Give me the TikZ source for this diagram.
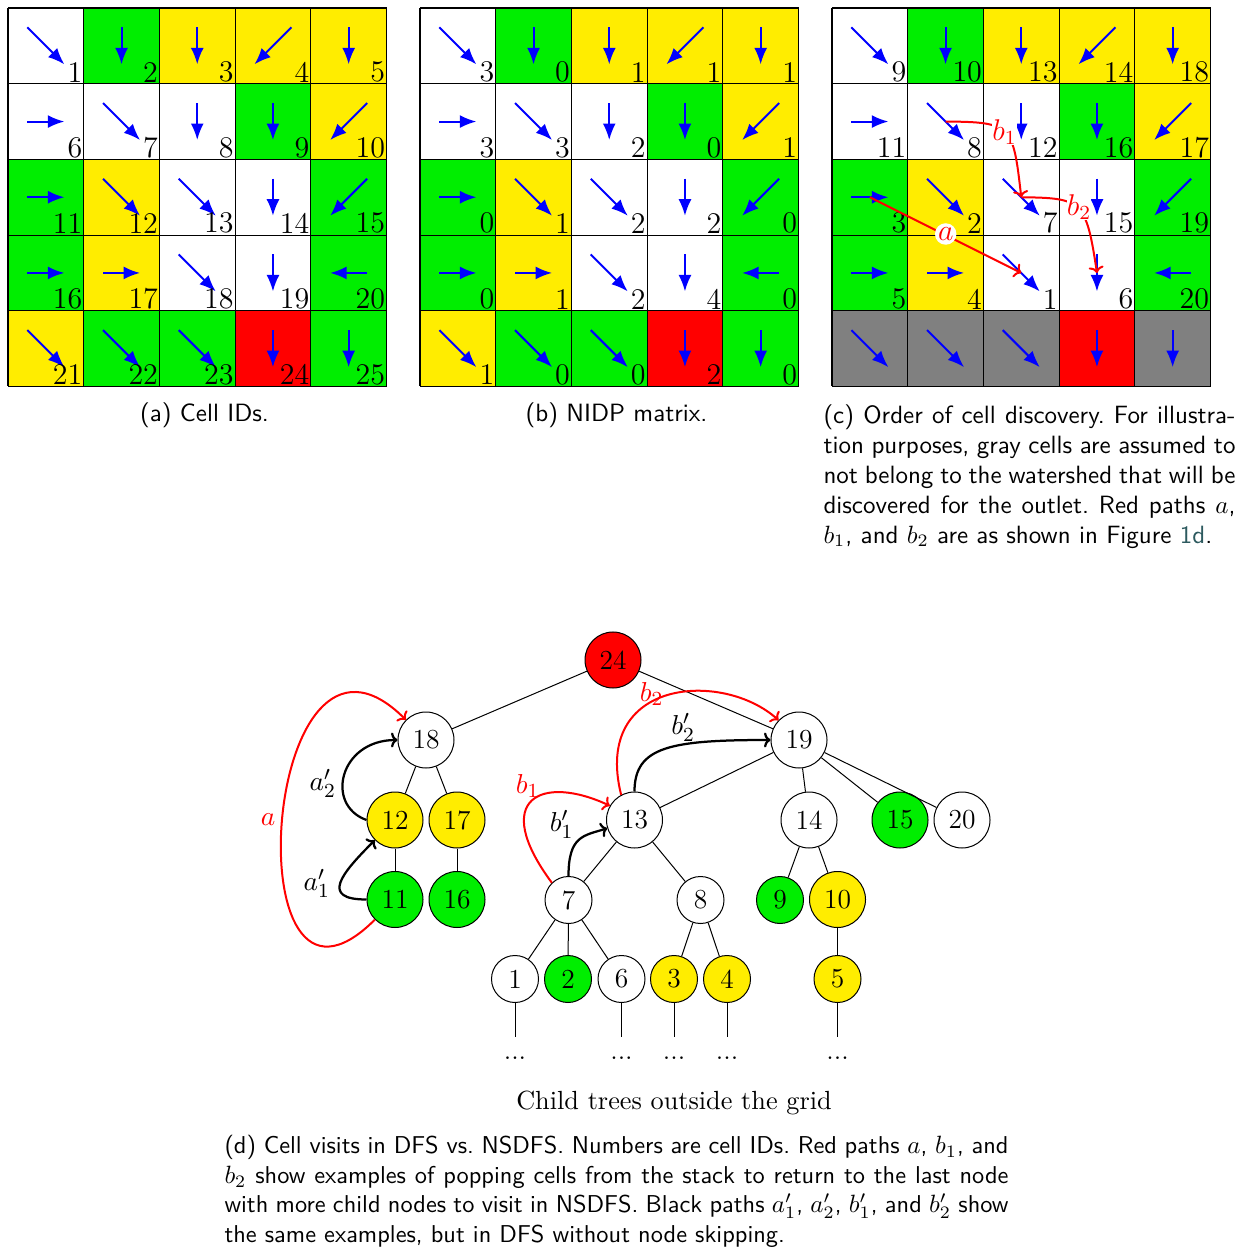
\documentclass[tikz,border=0pt]{standalone}
\usetikzlibrary{arrows.meta}
\definecolor{cg}{RGB}{0,238,0}
\definecolor{cy}{RGB}{255,237,0}
\definecolor{cr}{RGB}{255,0,0}
\definecolor{cgray}{RGB}{128,128,128}
\definecolor{cblue}{RGB}{0,0,255}
\definecolor{linkc}{RGB}{45,90,95}
\newcommand\capfont{\fontsize{10}{12}\selectfont\sffamily\frenchspacing}
\newcommand\capdfont{\fontsize{9.75}{11.8}\selectfont\sffamily\frenchspacing}
\newcommand\cs{75.7}
\begin{document}
\begin{tikzpicture}[x=0.4pt,y=0.4pt,
  cellarrow/.style={draw=cblue,line width=0.8pt,-{Latex[length=6.6pt,width=5.2pt]}},
  cellnum/.style={anchor=south east,inner sep=0.4pt,font=\fontsize{12}{14}\selectfont},
  gridline/.style={draw=black,line width=0.45pt},
  tnode/.style={circle,draw=black,line width=0.4pt,inner sep=0pt,font=\fontsize{11}{13}\selectfont},
  bignode/.style={tnode,minimum size=22.4pt},
  smallnode/.style={tnode,minimum size=18.8pt},
  tedge/.style={draw=black,line width=0.4pt},
  redarr/.style={draw=red,line width=0.8pt,-{To[length=2.6pt,width=6pt]}},
  blkarr/.style={draw=black,line width=0.9pt,-{To[length=2.6pt,width=6pt]}},
  rlab/.style={text=red,inner sep=0pt,font=\fontsize{11}{13}\selectfont},
  blab/.style={text=black,inner sep=0pt,font=\fontsize{11}{13}\selectfont},
  glab/.style={text=red,inner sep=0pt,font=\fontsize{12}{14}\selectfont},
  dotnode/.style={anchor=base,inner sep=0pt,font=\fontsize{11}{13}\selectfont},
  capnode/.style={inner sep=0pt,font=\capfont}]
\fill[white] (0,0) rectangle (1252,-1250);
\useasboundingbox (0,0) rectangle (1252,-1250);

% ---------- grids ----------
\foreach \ri/\ci/\dx/\dy/\fa/\fc/\nb/\nc in {
 1/1/1/-1/white/white/3/9, 1/2/0/-1/cg/cg/0/10, 1/3/0/-1/cy/cy/1/13, 1/4/-1/-1/cy/cy/1/14, 1/5/0/-1/cy/cy/1/18,
 2/1/1/0/white/white/3/11, 2/2/1/-1/white/white/3/8, 2/3/0/-1/white/white/2/12, 2/4/0/-1/cg/cg/0/16, 2/5/-1/-1/cy/cy/1/17,
 3/1/1/0/cg/cg/0/3, 3/2/1/-1/cy/cy/1/2, 3/3/1/-1/white/white/2/7, 3/4/0/-1/white/white/2/15, 3/5/-1/-1/cg/cg/0/19,
 4/1/1/0/cg/cg/0/5, 4/2/1/0/cy/cy/1/4, 4/3/1/-1/white/white/2/1, 4/4/0/-1/white/white/4/6, 4/5/-1/0/cg/cg/0/20,
 5/1/1/-1/cy/cgray/1/0, 5/2/1/-1/cg/cgray/0/0, 5/3/1/-1/cg/cgray/0/0, 5/4/0/-1/cr/cr/2/0, 5/5/0/-1/cg/cgray/0/0}{
  \pgfmathtruncatemacro\na{(\ri-1)*5+\ci}
  \pgfmathsetmacro\cxx{(\ci-0.5)*\cs}
  \pgfmathsetmacro\cyy{-8-(\ri-0.5)*\cs}
  \foreach \gx/\gf in {8/\fa,420/\fa,832/\fc}{
    \fill[\gf] ({\gx+(\ci-1)*\cs},{-8-(\ri-1)*\cs}) rectangle ++(\cs,-\cs);
    \draw[cellarrow] ({\gx+\cxx-18.5*\dx},{\cyy-18.5*\dy}) -- ++({37*\dx},{37*\dy});
  }
  \node[cellnum] (ga\na) at ({8+\ci*\cs},{-8-\ri*\cs}) {\na};
  \node[cellnum] (gb\na) at ({420+\ci*\cs},{-8-\ri*\cs}) {\nb};
  \ifnum\ri<5
  \node[cellnum] (gc\na) at ({832+\ci*\cs},{-8-\ri*\cs}) {\nc};
  \fi
}
\foreach \gx in {8,420,832}{
  \foreach \i in {0,...,5}{
    \draw[gridline] ({\gx+\i*\cs},-8) -- ++(0,{-5*\cs});
    \draw[gridline] (\gx,{-8-\i*\cs}) -- ++({5*\cs},0);
  }
}

% ---------- red paths in grid (c) ----------
\coordinate (q3) at (869.85,-197.25);
\coordinate (q1) at (1021.25,-272.95);
\coordinate (q8) at (945.55,-121.55);
\coordinate (q7) at (1021.25,-197.25);
\coordinate (q6) at (1096.95,-272.95);
\draw[redarr] (q3) -- (q1);
\draw[redarr] (q8) .. controls (1012,-122) and (1013,-125) .. (q7);
\draw[redarr] (q7) .. controls (1082,-198) and (1086,-200) .. (q6);
\node[circle,fill=white,minimum size=8.6pt,inner sep=0pt] (pahalo) at (945.7,-234) {};
\node[glab] (pa) at (945.7,-234) {$a$};
\node[glab,fill=white] (pbo) at (1004.5,-132) {$b_1$};
\node[glab,fill=white] (pbt) at (1079,-207) {$b_2$};

% ---------- captions ----------
\node[capnode,anchor=base] (capa) at (204.5,-422) {(a) Cell IDs.};
\node[capnode,anchor=base] (capb) at (616.5,-422) {(b) NIDP matrix.};
\node[capnode,anchor=north west,text width=164.8pt,align=justify] (capc) at (823,-404)
 {(c) Order of cell discovery. For illustration purposes, gray cells are assumed to not belong to the watershed that will be discovered for the outlet. Red paths $a$, $b_1$, and $b_2$ are as shown in Figure \textcolor{linkc}{1d}.};

% ---------- tree ----------
\node[bignode,fill=cr] (n24) at (613,-660) {24};
\node[bignode,fill=white] (n18) at (426,-740) {18};
\node[bignode,fill=cy] (n12) at (395,-820) {12};
\node[bignode,fill=cy] (n17) at (457,-820) {17};
\node[bignode,fill=cg] (n11) at (395,-899.5) {11};
\node[bignode,fill=cg] (n16) at (457,-899.5) {16};
\node[bignode,fill=white] (n19) at (799,-740) {19};
\node[bignode,fill=white] (n13) at (634.5,-820) {13};
\node[bignode,fill=white] (n14) at (809,-820) {14};
\node[bignode,fill=cg] (n15) at (900,-820) {15};
\node[bignode,fill=white] (n20) at (962,-820) {20};
\node[smallnode,fill=white] (n7) at (568.5,-900) {7};
\node[smallnode,fill=white] (n8) at (700.5,-900) {8};
\node[smallnode,fill=cg] (n9) at (780,-900) {9};
\node[bignode,fill=cy] (n10) at (837.5,-899.5) {10};
\node[smallnode,fill=white] (n1) at (515,-979) {1};
\node[smallnode,fill=cg] (n2) at (568,-979) {2};
\node[smallnode,fill=white] (n6) at (621.5,-979) {6};
\node[smallnode,fill=cy] (n3) at (674,-979) {3};
\node[smallnode,fill=cy] (n4) at (727,-979) {4};
\node[smallnode,fill=cy] (n5) at (837.5,-979) {5};

\draw[tedge] (n24) -- (n18);
\draw[tedge] (n24) -- (n19);
\draw[tedge] (n18) -- (n12);
\draw[tedge] (n18) -- (n17);
\draw[tedge] (n12) -- (n11);
\draw[tedge] (n17) -- (n16);
\draw[tedge] (n19) -- (n13);
\draw[tedge] (n19) -- (n14);
\draw[tedge] (n19) -- (n15);
\draw[tedge] (n19) -- (n20);
\draw[tedge] (n13) -- (n7);
\draw[tedge] (n13) -- (n8);
\draw[tedge] (n7) -- (n1);
\draw[tedge] (n7) -- (n2);
\draw[tedge] (n7) -- (n6);
\draw[tedge] (n8) -- (n3);
\draw[tedge] (n8) -- (n4);
\draw[tedge] (n14) -- (n9);
\draw[tedge] (n14) -- (n10);
\draw[tedge] (n10) -- (n5);

\foreach \k/\xx in {1/515,6/621.5,3/674,4/727,5/837.5}{
  \coordinate (e\k) at (\xx,-1036.7);
  \draw[tedge] (n\k) -- (e\k);
  \node[dotnode] (t\k) at (\xx,-1059) {...};
}

% DFS / NSDFS paths
\draw[redarr] (n11.225) .. controls +(225:204) and +(135:204) .. (n18.135);
\draw[blkarr] (n11.west) .. controls +(-47,0) and +(225:47) .. (n12.225);
\draw[blkarr] (n12.west) .. controls +(-42,15) and +(-58,0) .. (n18.west);
\draw[redarr] (n7.134) .. controls +(126.5:105) and +(155:75) .. (n13.150);
\draw[blkarr] (n7.north) .. controls +(0,40) and +(197:25) .. (n13.197);
\draw[redarr] (n13.118) .. controls +(104:120) and +(138:75) .. (n19.136);
\draw[blkarr] (n13.north) .. controls +(0,45) and +(-100,0) .. (n19.west);

\node[rlab] (la) at (268,-820) {$a$};
\node[blab] (la1) at (316.7,-883) {$a'_1$};
\node[blab] (la2) at (322.7,-783) {$a'_2$};
\node[rlab] (lb1) at (527.7,-786) {$b_1$};
\node[blab] (lb1p) at (561.7,-824) {$b'_1$};
\node[rlab] (lb2) at (651.7,-694) {$b_2$};
\node[blab] (lb2p) at (683.3,-727) {$b'_2$};

\node[anchor=base,inner sep=0pt,font=\fontsize{10.5}{12.5}\selectfont] (child) at (674,-1109) {Child trees outside the grid};

\node[inner sep=0pt,font=\capdfont,anchor=north west,text width=313.6pt,align=justify] (capd) at (224,-1135)
 {(d) Cell visits in DFS vs.\ NSDFS. Numbers are cell IDs. Red paths $a$, $b_1$, and $b_2$ show examples of popping cells from the stack to return to the last node with more child nodes to visit in NSDFS. Black paths $a'_1$, $a'_2$, $b'_1$, and $b'_2$ show the same examples, but in DFS without node skipping.};
\end{tikzpicture}
\end{document}
